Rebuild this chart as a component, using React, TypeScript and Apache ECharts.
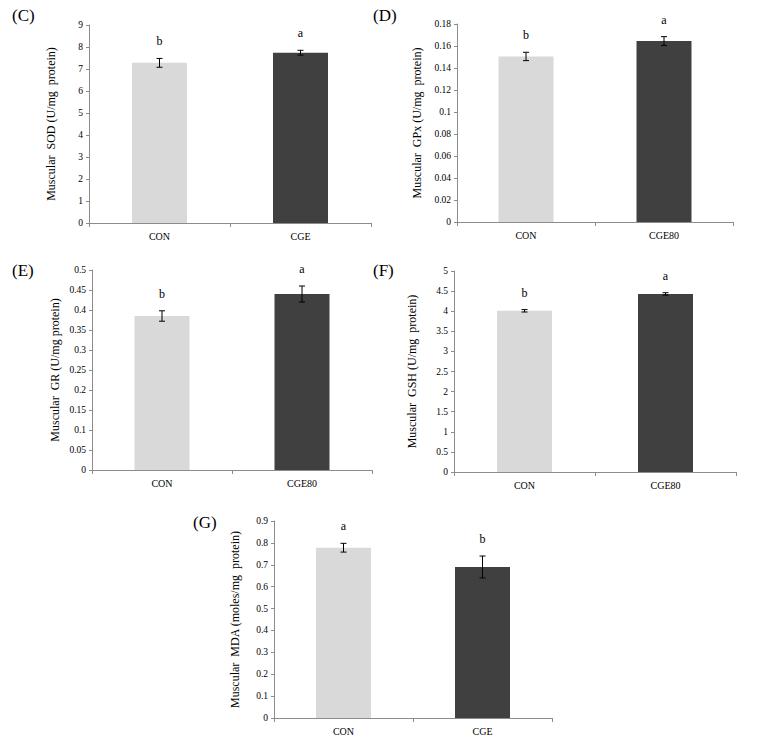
import React, { useEffect, useRef } from "react";
import * as echarts from "echarts";

// ---- data ----
const catsC = ["CON", "CGE"];
const sodMean = [7.28, 7.74];
const sodErr = [0.2, 0.11];
const sodLetters = ["b", "a"];

const catsD = ["CON", "CGE80"];
const gpxMean = [0.1505, 0.1645];
const gpxErr = [0.0038, 0.004];
const gpxLetters = ["b", "a"];

const catsE = ["CON", "CGE80"];
const grMean = [0.385, 0.44];
const grErr = [0.013, 0.02];
const grLetters = ["b", "a"];

const catsF = ["CON", "CGE80"];
const gshMean = [4.01, 4.43];
const gshErr = [0.03, 0.03];
const gshLetters = ["b", "a"];

const catsG = ["CON", "CGE"];
const mdaMean = [0.778, 0.69];
const mdaErr = [0.02, 0.05];
const mdaLetters = ["a", "b"];

const panelLabels = ["(C)", "(D)", "(E)", "(F)", "(G)"];
const yTitles = [
  "Muscular  SOD (U/mg  protein)",
  "Muscular  GPx (U/mg  protein)",
  "Muscular  GR (U/mg protein)",
  "Muscular  GSH (U/mg  protein)",
  "Muscular  MDA (moles/mg  protein)",
];
const yMax = [9, 0.18, 0.5, 5, 0.9];
const yStep = [1, 0.02, 0.05, 0.5, 0.1];

const barColors = ["#d9d9d9", "#404040"];
const FONT = "Liberation Serif";

const panels = [
  { cats: catsC, mean: sodMean, err: sodErr, letters: sodLetters },
  { cats: catsD, mean: gpxMean, err: gpxErr, letters: gpxLetters },
  { cats: catsE, mean: grMean, err: grErr, letters: grLetters },
  { cats: catsF, mean: gshMean, err: gshErr, letters: gshLetters },
  { cats: catsG, mean: mdaMean, err: mdaErr, letters: mdaLetters },
];

const grids = [
  { left: 89, top: 25, width: 282, height: 198 },
  { left: 457, top: 24, width: 276, height: 198 },
  { left: 92, top: 270, width: 280, height: 200 },
  { left: 454, top: 271, width: 282, height: 201 },
  { left: 274, top: 521, width: 278, height: 197 },
];
const nameGaps = [32, 34, 31, 36, 33];
const labelPos = [
  { x: 12, y: 7 },
  { x: 373, y: 7 },
  { x: 12, y: 262 },
  { x: 373, y: 262 },
  { x: 193, y: 514 },
];

export default function App() {
  const ref = useRef<HTMLDivElement>(null);
  useEffect(() => {
    document.body.style.margin = "0";
    const chart = echarts.init(ref.current!, null, { renderer: "svg" });
    const axisColor = "#8c8c8c";
    const xAxis: any[] = [];
    const yAxis: any[] = [];
    const series: any[] = [];
    panels.forEach((p, i) => {
      xAxis.push({
        type: "category",
        gridIndex: i,
        data: p.cats,
        boundaryGap: true,
        axisLine: { lineStyle: { color: axisColor, width: 1 } },
        axisTick: { show: true, length: 4, lineStyle: { color: axisColor } },
        axisLabel: { color: "#000", fontFamily: FONT, fontSize: 10, margin: 8 },
      });
      yAxis.push({
        type: "value",
        gridIndex: i,
        min: 0,
        max: yMax[i],
        interval: yStep[i],
        name: yTitles[i],
        nameLocation: "middle",
        nameRotate: 90,
        nameGap: nameGaps[i],
        nameTextStyle: { color: "#000", fontFamily: FONT, fontSize: 12 },
        axisLine: { show: true, lineStyle: { color: axisColor, width: 1 } },
        axisTick: { show: true, length: 3, lineStyle: { color: axisColor } },
        axisLabel: { color: "#000", fontFamily: FONT, fontSize: 9.5, margin: 6 },
        splitLine: { show: false },
      });
      series.push({
        type: "bar",
        xAxisIndex: i,
        yAxisIndex: i,
        barWidth: 55,
        z: 2,
        data: p.mean.map((v, k) => ({ value: v, itemStyle: { color: barColors[k] } })),
      });
      const letters = p.letters;
      series.push({
        type: "custom",
        xAxisIndex: i,
        yAxisIndex: i,
        z: 10,
        encode: { x: 0, y: 1 },
        data: p.mean.map((v, k) => [k, v, p.err[k]]),
        renderItem: (params: any, api: any) => {
          const x = api.value(0);
          const m = api.value(1);
          const e = api.value(2);
          const top = api.coord([x, m + e]);
          const bot = api.coord([x, m - e]);
          const cx = top[0];
          const w = 3;
          const st = { stroke: "#000", lineWidth: 1 };
          return {
            type: "group",
            z2: 100,
            children: [
              { type: "line", z2: 100, shape: { x1: cx, y1: top[1], x2: cx, y2: bot[1] }, style: st },
              { type: "line", z2: 100, shape: { x1: cx - w, y1: top[1], x2: cx + w, y2: top[1] }, style: st },
              { type: "line", z2: 100, shape: { x1: cx - w, y1: bot[1], x2: cx + w, y2: bot[1] }, style: st },
              {
                type: "text",
                style: {
                  text: letters[params.dataIndex],
                  x: cx,
                  y: top[1] - 17,
                  align: "center",
                  verticalAlign: "middle",
                  font: `12px "${FONT}", serif`,
                  fill: "#000",
                },
              },
            ],
          };
        },
      });
    });
    chart.setOption({
      animation: false,
      backgroundColor: "#ffffff",
      grid: grids.map((g) => ({ ...g, containLabel: false })),
      xAxis,
      yAxis,
      series,
      graphic: panelLabels.map((t, i) => ({
        type: "text",
        left: labelPos[i].x,
        top: labelPos[i].y,
        style: { text: t, font: `17px "${FONT}", serif`, fill: "#000" },
      })),
    });
    return () => chart.dispose();
  }, []);
  return <div ref={ref} style={{ width: 757, height: 743 }} />;
}
